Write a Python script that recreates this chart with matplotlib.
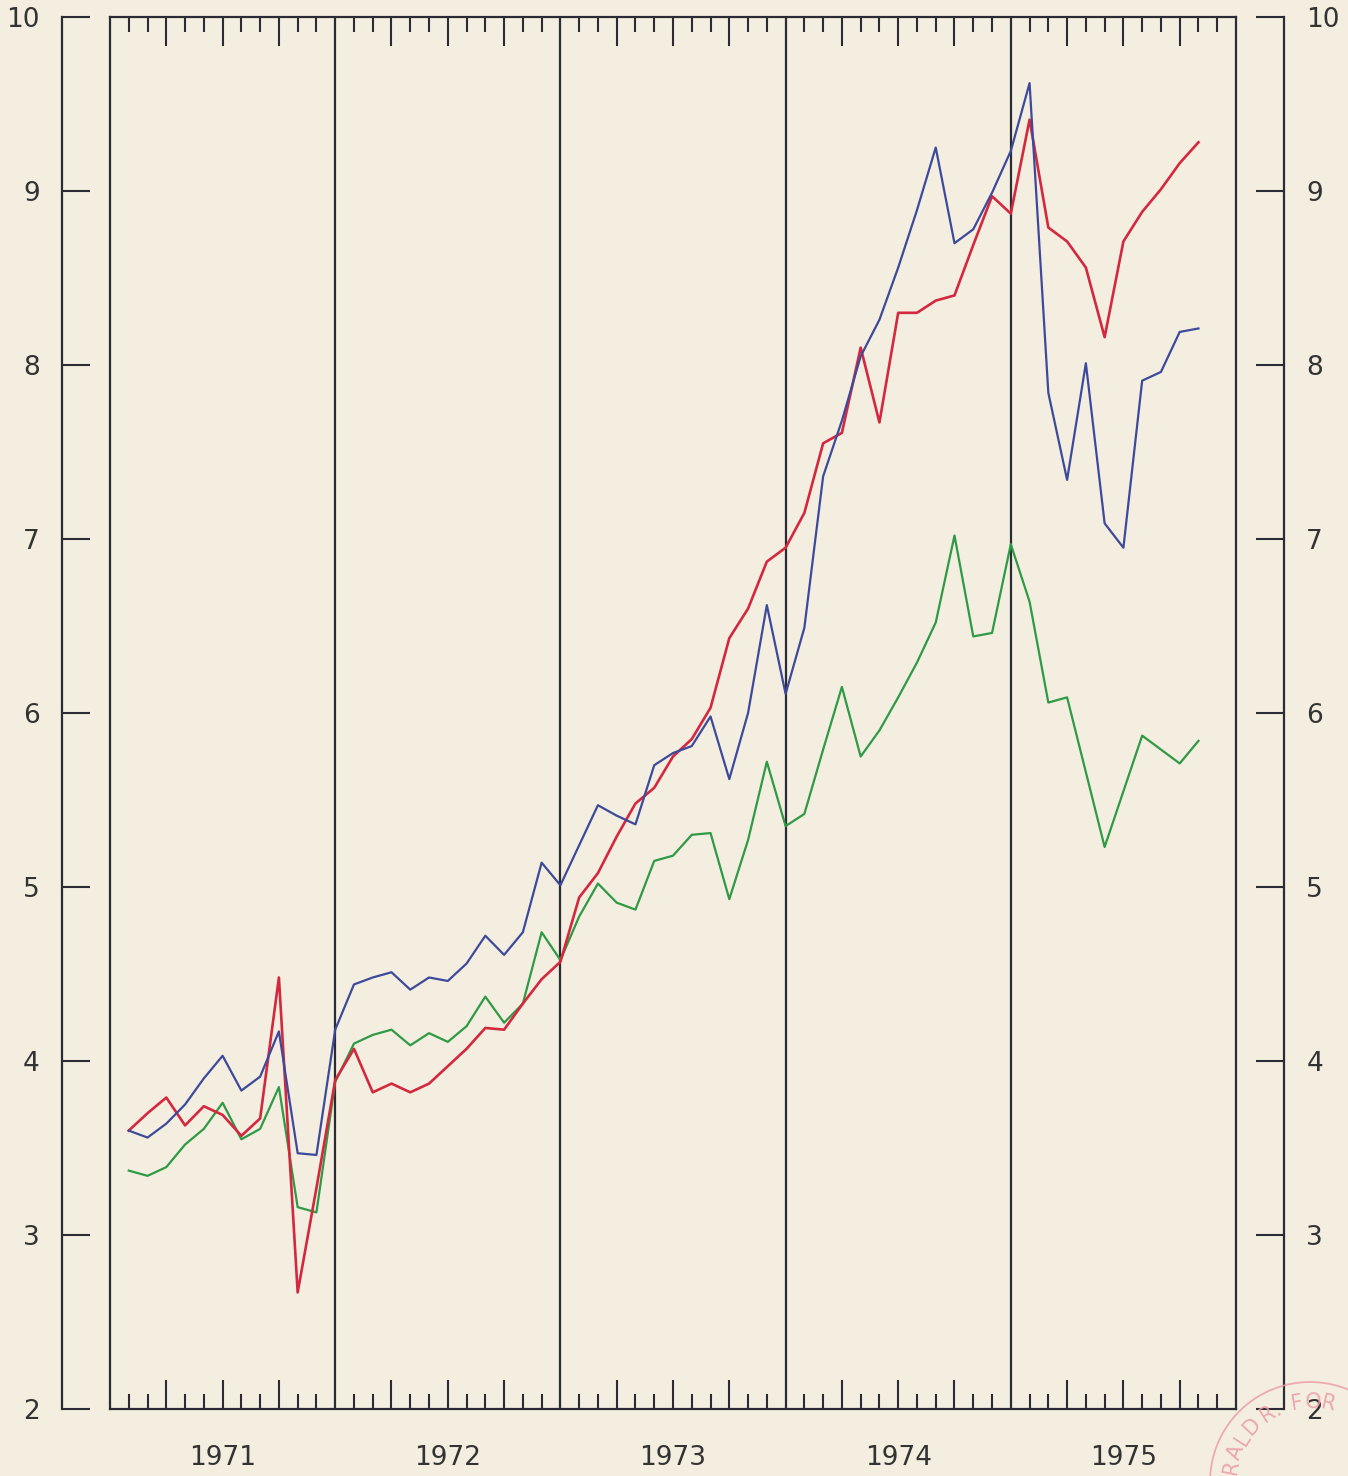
import matplotlib
matplotlib.use("Agg")
import matplotlib.pyplot as plt
import numpy as np

# monthly values, Jan 1971 .. Oct 1975
years = [1971, 1972, 1973, 1974, 1975]

red = [3.60, 3.70, 3.79, 3.63, 3.74, 3.69, 3.57, 3.67, 4.48, 2.67, 3.27, 3.89,
       4.07, 3.82, 3.87, 3.82, 3.87, 3.97, 4.07, 4.19, 4.18, 4.33, 4.47, 4.57,
       4.94, 5.08, 5.29, 5.48, 5.57, 5.75, 5.85, 6.03, 6.43, 6.60, 6.87, 6.95,
       7.15, 7.55, 7.61, 8.10, 7.67, 8.30, 8.30, 8.37, 8.40, 8.69, 8.97, 8.87,
       9.41, 8.79, 8.71, 8.56, 8.16, 8.71, 8.88, 9.01, 9.16, 9.28]

blue = [3.60, 3.56, 3.64, 3.75, 3.90, 4.03, 3.83, 3.91, 4.17, 3.47, 3.46, 4.18,
        4.44, 4.48, 4.51, 4.41, 4.48, 4.46, 4.56, 4.72, 4.61, 4.74, 5.14, 5.01,
        5.24, 5.47, 5.41, 5.36, 5.70, 5.77, 5.81, 5.98, 5.62, 6.00, 6.62, 6.11,
        6.49, 7.36, 7.68, 8.05, 8.26, 8.56, 8.89, 9.25, 8.70, 8.78, 8.99, 9.23,
        9.62, 7.84, 7.34, 8.01, 7.09, 6.95, 7.91, 7.96, 8.19, 8.21]

green = [3.37, 3.34, 3.39, 3.52, 3.61, 3.76, 3.55, 3.61, 3.85, 3.16, 3.13, 3.88,
         4.10, 4.15, 4.18, 4.09, 4.16, 4.11, 4.20, 4.37, 4.22, 4.33, 4.74, 4.58,
         4.83, 5.02, 4.91, 4.87, 5.15, 5.18, 5.30, 5.31, 4.93, 5.27, 5.72, 5.35,
         5.42, 5.79, 6.15, 5.75, 5.90, 6.09, 6.29, 6.52, 7.02, 6.44, 6.46, 6.97,
         6.64, 6.06, 6.09, 5.66, 5.23, 5.55, 5.87, 5.79, 5.71, 5.84]

y_ticks = [2, 3, 4, 5, 6, 7, 8, 9, 10]

W, H = 1348, 1476
BG = "#f3eedf"
INK = "#2b2b36"


def fx(px):
    return px / W


def fy(py):
    return 1 - py / H


fig = plt.figure(figsize=(W / 100, H / 100), dpi=100, facecolor=BG)

top, bot = 17, 1409
# outer frame with the value scale on both sides
axo = fig.add_axes([fx(62), fy(bot), fx(1284 - 62), (bot - top) / H])
axo.set_facecolor("none")
axo.set_ylim(2, 10)
axo.set_xticks([])
for s in ["top", "bottom"]:
    axo.spines[s].set_visible(False)
for s in ["left", "right"]:
    axo.spines[s].set_color(INK)
    axo.spines[s].set_linewidth(1.6)
axo.set_yticks(y_ticks)
axo.tick_params(axis="y", direction="in", length=20, width=1.5, color=INK,
                left=True, right=True, labelleft=True, labelright=True,
                labelsize=19, labelcolor="#333333", pad=16)

# main plotting box
ax = fig.add_axes([fx(110), fy(bot), fx(1236 - 110), (bot - top) / H])
ax.set_facecolor("none")
ax.set_xlim(years[0], years[-1] + 1)
ax.set_ylim(2, 10)
ax.set_yticks([])
for s in ax.spines.values():
    s.set_color(INK)
    s.set_linewidth(1.6)

months = np.arange(1, 12)
quarters = [y + m / 12 for y in years for m in months if m % 3 == 0]
other = [y + m / 12 for y in years for m in months if m % 3 != 0]
ax.set_xticks(quarters)
ax.set_xticks(other, minor=True)
ax.set_xticklabels([])
ax.tick_params(axis="x", which="major", direction="in", length=21, width=1.5,
               color=INK, top=True, bottom=True)
ax.tick_params(axis="x", which="minor", direction="in", length=11, width=1.5,
               color=INK, top=True, bottom=True)

for y in years[1:]:
    ax.axvline(y, color=INK, lw=1.6, zorder=1)

for y in years:
    ax.text(y + 0.5, -0.035, str(y), transform=ax.get_xaxis_transform(),
            ha="center", va="center", fontsize=19, color="#333333")

x = years[0] + np.arange(1, len(red) + 1) / 12
ax.plot(x, green, color="#2f9a45", lw=1.6, zorder=3)
ax.plot(x, red, color="#d4283f", lw=1.9, zorder=4)
ax.plot(x, blue, color="#3d4a9c", lw=1.6, zorder=5)

# faint library stamp in the lower right corner
cx, cy, r = 1310, 1482, 100
theta = np.linspace(0, 2 * np.pi, 200)
fig.add_artist(plt.Line2D(fx(cx + r * np.cos(theta)), fy(cy - r * np.sin(theta)),
                          color="#ec9aa4", lw=1.3, alpha=0.8))
stamp = [("R", 169), ("A", 158), ("L", 147), ("D", 136), ("R", 122), (".", 114),
         ("F", 99), ("O", 88), ("R", 77)]
for ch, ang in stamp:
    a = np.deg2rad(ang)
    fig.text(fx(cx + 80 * np.cos(a)), fy(cy - 80 * np.sin(a)), ch,
             rotation=ang - 90, ha="center", va="center", fontsize=15,
             color="#ec9aa4", alpha=0.85)

fig.savefig("out.png", dpi=100, facecolor=BG)
